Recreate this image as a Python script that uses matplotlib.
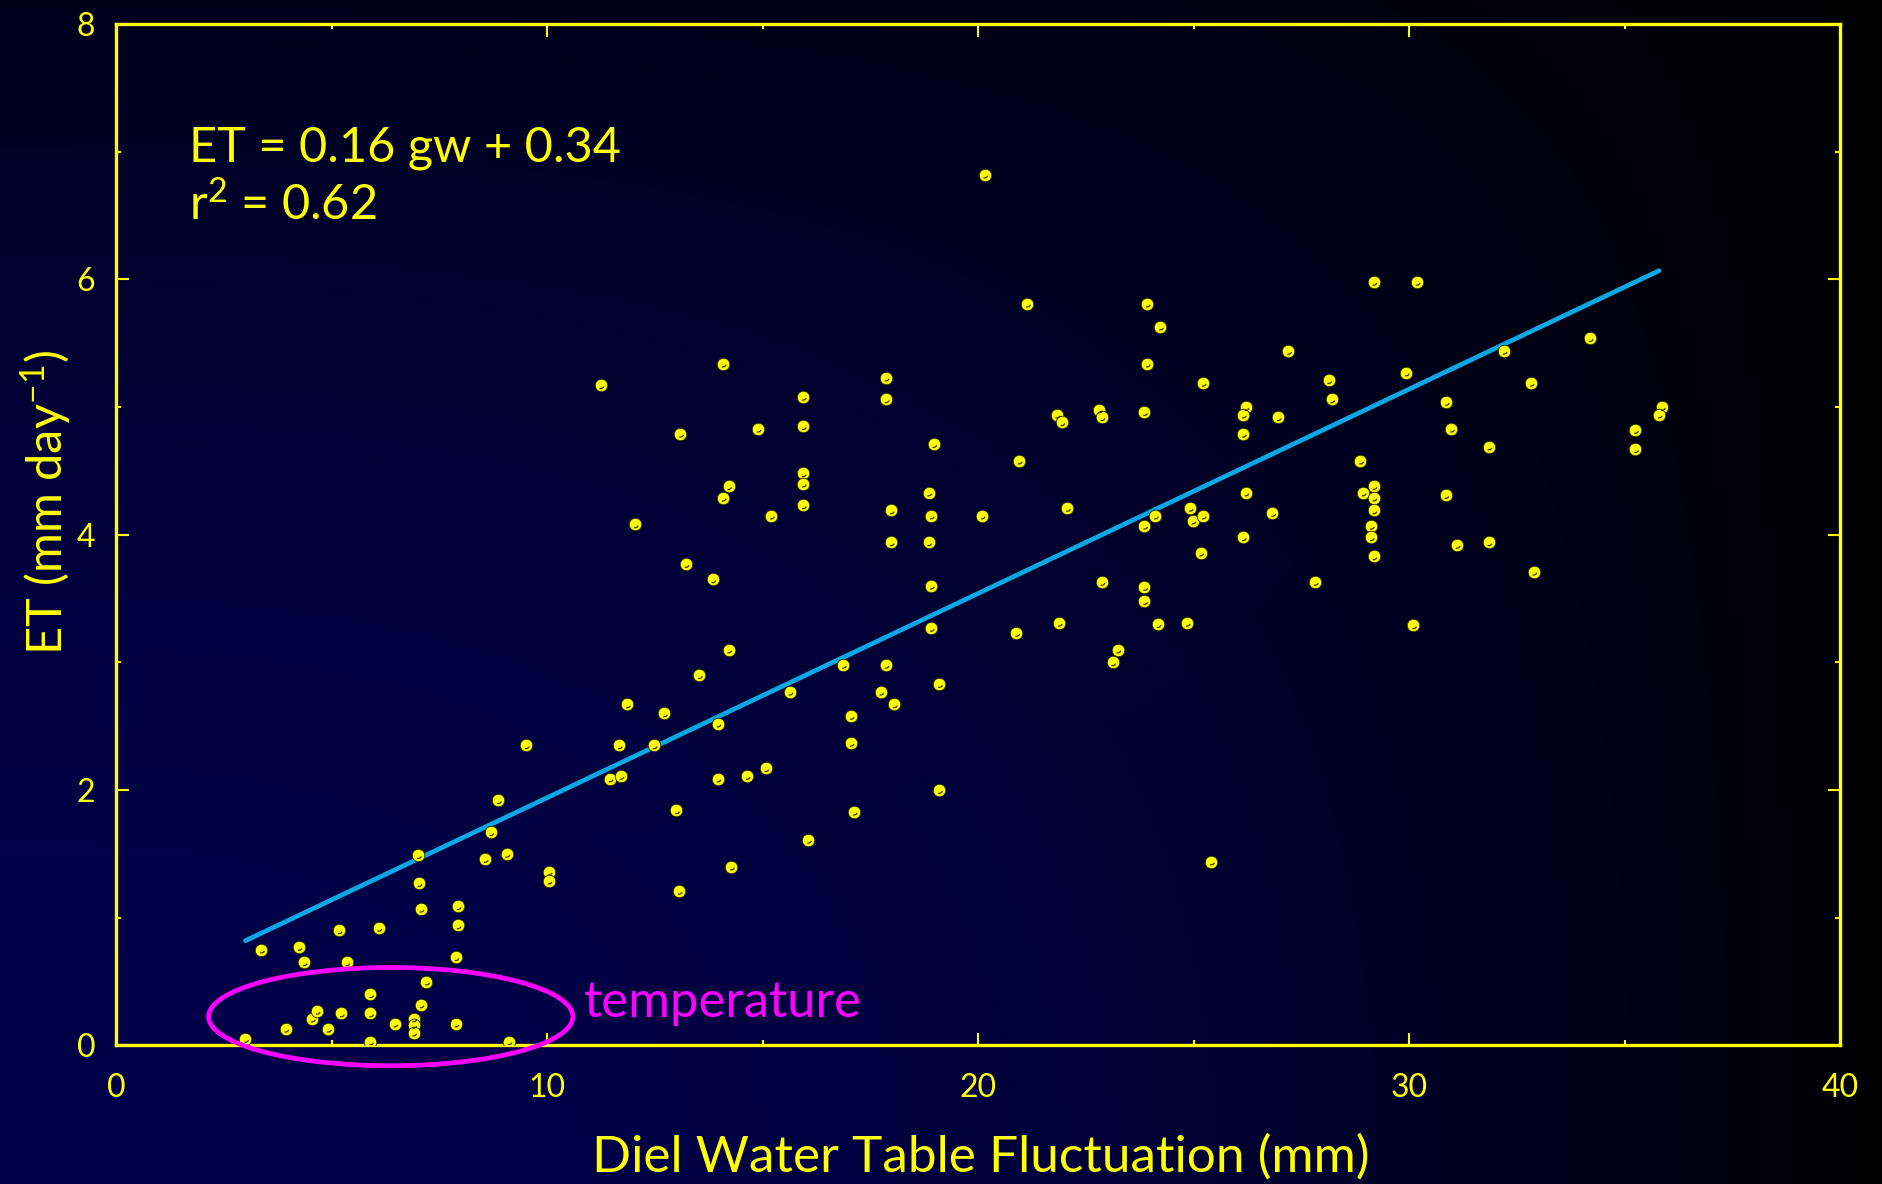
import numpy as np
import matplotlib
matplotlib.use("Agg")
import matplotlib.pyplot as plt
from matplotlib.patches import Ellipse
from matplotlib.path import Path
from matplotlib.ticker import MultipleLocator

plt.rcParams['font.family'] = ['Lato', 'DejaVu Sans']
plt.rcParams['mathtext.fontset'] = 'custom'
plt.rcParams['mathtext.rm'] = 'Lato'
plt.rcParams['mathtext.it'] = 'Lato:italic'

# diel water table fluctuation (mm) vs ET (mm/day)
gw = [3.0, 3.37, 3.93, 4.24, 4.36, 4.55, 4.66, 4.92, 5.17, 5.22, 5.35, 5.9, 5.9, 5.9,
      6.09, 6.46, 6.9, 6.9, 6.9, 7.01, 7.02, 7.07, 7.07, 7.2, 7.88, 7.93, 7.93, 7.88,
      8.56, 8.69, 8.87, 9.06, 9.11, 10.04, 10.04, 11.46, 11.71, 13.0, 13.06, 9.51,
      11.24, 14.08, 17.86, 17.86, 15.94, 15.94, 13.09, 14.89, 18.97, 15.94, 15.94, 15.94,
      14.21, 14.08, 15.2, 18.85, 17.98, 18.91, 20.09, 17.98, 18.85, 18.91, 12.04, 13.22,
      13.84, 18.91, 14.21, 13.53, 16.87, 17.86, 19.1, 15.63, 17.74, 18.05, 11.86, 12.72,
      13.96, 17.05, 17.05, 11.67, 12.48, 13.96, 14.64, 15.07, 19.1, 17.12, 16.06, 14.27,
      20.15, 21.14, 23.92, 24.23, 23.92, 25.22, 21.82, 21.94, 22.81, 22.87, 23.86, 26.21,
      26.15, 26.96, 26.15, 20.95, 26.21, 22.07, 24.11, 23.86, 24.92, 24.98, 25.22, 26.83,
      26.15, 25.16, 22.87, 23.86, 23.86, 20.89, 21.88, 24.17, 24.85, 23.24, 23.12, 25.41,
      27.2,
      29.18, 30.18, 34.2, 32.2, 29.93, 28.13, 28.2, 32.83, 30.86, 35.87, 35.8, 30.98,
      35.25, 35.25, 31.85, 28.87, 29.18, 28.93, 29.18, 29.18, 30.85, 29.12, 29.12, 29.18,
      31.11, 31.85, 32.89, 27.82, 30.1]
et = [0.05, 0.75, 0.13, 0.77, 0.65, 0.21, 0.27, 0.13, 0.90, 0.25, 0.65, 0.40, 0.25, 0.03,
      0.92, 0.17, 0.21, 0.16, 0.10, 1.49, 1.27, 1.07, 0.32, 0.50, 0.69, 1.09, 0.94, 0.17,
      1.46, 1.67, 1.92, 1.50, 0.03, 1.36, 1.29, 2.09, 2.11, 1.84, 1.21, 2.35,
      5.17, 5.34, 5.23, 5.06, 5.08, 4.85, 4.79, 4.83, 4.71, 4.48, 4.40, 4.23,
      4.38, 4.29, 4.15, 4.33, 4.19, 4.15, 4.15, 3.94, 3.94, 3.60, 4.08, 3.77,
      3.65, 3.27, 3.10, 2.90, 2.98, 2.98, 2.83, 2.77, 2.77, 2.67, 2.67, 2.60,
      2.52, 2.58, 2.37, 2.35, 2.35, 2.09, 2.11, 2.17, 2.00, 1.83, 1.61, 1.40,
      6.82, 5.81, 5.81, 5.63, 5.34, 5.19, 4.94, 4.88, 4.98, 4.92, 4.96, 5.00,
      4.94, 4.92, 4.79, 4.58, 4.33, 4.21, 4.15, 4.07, 4.21, 4.11, 4.15, 4.17,
      3.98, 3.86, 3.63, 3.59, 3.48, 3.23, 3.31, 3.30, 3.31, 3.10, 3.00, 1.44,
      5.44,
      5.98, 5.98, 5.54, 5.44, 5.27, 5.21, 5.06, 5.19, 5.04, 5.00, 4.94, 4.83,
      4.82, 4.67, 4.69, 4.58, 4.38, 4.33, 4.29, 4.19, 4.31, 4.07, 3.98, 3.83,
      3.92, 3.94, 3.71, 3.63, 3.29]

# regression
slope, intercept = 0.16, 0.34
fit_range = [3.0, 35.8]

yellow = '#ffff00'
line_blue = '#0aa8e2'
magenta = '#ff00ff'

fig = plt.figure(figsize=(18.83, 11.84), dpi=100)

# dark navy background fading to black at the right
bg = fig.add_axes([0, 0, 1, 1])
u = np.linspace(0, 1, 400)[None, :]
v = np.linspace(1, 0, 300)[:, None]
f = (1 - u ** 2.5) * (1 - 0.65 * v ** 2)
img = np.zeros((300, 400, 3))
img[..., 0] = 0.015 * v * f
img[..., 2] = 0.29 * f
bg.imshow(img, aspect='auto', extent=[0, 1, 0, 1], interpolation='bilinear')
bg.axis('off')

ax = fig.add_axes([0.0617, 0.1171, 0.9155, 0.8626])
ax.patch.set_alpha(0)

fx = np.array(fit_range)
ax.plot(fx, slope * fx + intercept, color=line_blue, lw=3.4, solid_capstyle='round', zorder=2)

ax.scatter(gw, et, s=82, color=yellow, edgecolors='#202000', linewidths=0.6, zorder=3)
# little shading arc on each dot
arc = Path.arc(250, 340)
ax.scatter(gw, et, s=24, marker=arc, facecolors='none', edgecolors='#3a3a00',
           linewidths=0.9, zorder=4)

ax.set_xlim(0, 40)
ax.set_ylim(0, 8)
ax.xaxis.set_major_locator(MultipleLocator(10))
ax.xaxis.set_minor_locator(MultipleLocator(5))
ax.yaxis.set_major_locator(MultipleLocator(2))
ax.yaxis.set_minor_locator(MultipleLocator(1))
ax.tick_params(which='both', direction='in', top=True, right=True, color=yellow,
               labelcolor=yellow, labelsize=23)
ax.tick_params(which='major', length=9, width=1.5)
ax.tick_params(which='minor', length=3.3, width=1.5)
ax.tick_params(axis='x', pad=20)
ax.tick_params(axis='y', pad=15)
for sp in ax.spines.values():
    sp.set_color(yellow)
    sp.set_linewidth(2.4)

ax.text(1.68, 6.92, 'ET = 0.16 gw + 0.34', color=yellow, fontsize=35, va='baseline')
ax.text(1.68, 6.47, 'r$^2$ = 0.62', color=yellow, fontsize=35, va='baseline')

ell = Ellipse((6.37, 0.225), 8.45, 0.77, fill=False, edgecolor=magenta, lw=3.4,
              clip_on=False, zorder=5)
ax.add_patch(ell)
ax.text(10.86, 0.22, 'temperature', color=magenta, fontsize=36.5, va='baseline')

fig.text(981 / 1883, 1 - 1157 / 1184, 'Diel Water Table Fluctuation (mm)', color=yellow,
         fontsize=37, ha='center', va='center')
fig.text(46 / 1883, 1 - 502 / 1184, 'ET (mm day$^{-1}$)', color=yellow, fontsize=35,
         ha='center', va='center', rotation=90)

fig.savefig('out.png', dpi=100)
